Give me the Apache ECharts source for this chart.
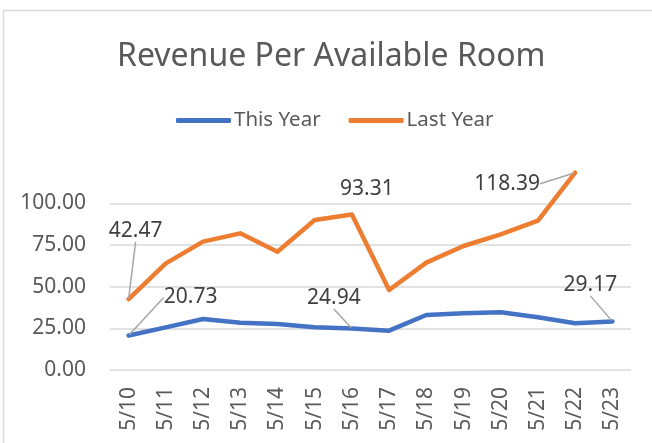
<!DOCTYPE html>
<html>
<head>
<meta charset="utf-8">
<script src="https://cdn.jsdelivr.net/npm/echarts@6/dist/echarts.min.js"></script>
<style>
  html, body { margin: 0; padding: 0; background: #fff; }
  #chart { width: 652px; height: 443px; }
</style>
</head>
<body>
<div id="chart"></div>
<script>
// ---- data ----
const categories = ['5/10','5/11','5/12','5/13','5/14','5/15','5/16','5/17','5/18','5/19','5/20','5/21','5/22','5/23'];
const thisYear = [20.73, 25.6, 30.6, 28.4, 27.6, 25.6, 24.94, 23.6, 33.0, 34.0, 34.6, 31.6, 28.0, 29.17];
const lastYear = [42.47, 64.0, 77.0, 82.0, 71.0, 90.0, 93.31, 48.0, 64.4, 74.4, 81.4, 89.6, 118.39, null];
const labeledThisYear = [0, 6, 13];
const labeledLastYear = [0, 6, 12];
const yTicks = [0, 25, 50, 75, 100];

// ---- label placement (styling only) ----
const thisYearLabelOffsets = { 0: [62, -38, true], 6: [-18, -30, true], 13: [-22, -36, true] };
const lastYearLabelOffsets = { 0: [7, -68, true], 6: [15, -25, false], 12: [-68, 11, true] };

const FONT = 'Noto Sans';
const TXT = '#595959';

function buildData(values, labeled, offsets) {
  return values.map((v, i) => {
    if (labeled.indexOf(i) >= 0) {
      return {
        value: v,
        label: { show: true },
        labelLine: { show: offsets[i][2] }
      };
    }
    return v;
  });
}

function layoutFor(offsets) {
  return function (params) {
    const o = offsets[params.dataIndex];
    if (!o) return {};
    return { dx: o[0], dy: o[1] };
  };
}

const chart = echarts.init(document.getElementById('chart'), null, { renderer: 'canvas' });

const commonLabel = {
  show: false,
  position: 'inside',
  fontFamily: FONT,
  fontSize: 21,
  color: '#404040',
  formatter: p => p.value.toFixed(2)
};
const commonLabelLine = {
  show: false,
  lineStyle: { color: '#a6a6a6', width: 1.5 }
};

chart.setOption({
  animation: false,
  backgroundColor: '#ffffff',
  graphic: [{
    type: 'rect',
    silent: true,
    shape: { x: 3.5, y: 10.5, width: 700, height: 500 },
    style: { fill: 'none', stroke: '#d9d9d9', lineWidth: 1.5 }
  }],
  title: {
    text: 'Revenue Per Available Room',
    left: 112,
    top: 36,
    textStyle: { fontFamily: FONT, fontSize: 32, fontWeight: 'normal', color: TXT }
  },
  legend: {
    top: 105,
    left: 171,
    itemWidth: 55,
    itemHeight: 5,
    itemGap: 28,
    icon: 'roundRect',
    textStyle: { fontFamily: FONT, fontSize: 20.5, color: TXT, padding: [0, 0, 0, -2] },
    data: ['This Year', 'Last Year']
  },
  grid: { left: 110, right: 21, top: 170, bottom: 73 },
  xAxis: {
    type: 'category',
    data: categories,
    boundaryGap: true,
    axisLine: { show: false },
    axisTick: { show: false },
    axisLabel: {
      rotate: 90,
      margin: 17,
      interval: 0,
      fontFamily: FONT,
      fontSize: 21,
      color: TXT
    }
  },
  yAxis: {
    type: 'value',
    min: 0,
    max: 120,
    interval: 25,
    axisLine: { show: false },
    axisTick: { show: false },
    axisLabel: {
      margin: 24,
      fontFamily: FONT,
      fontSize: 21,
      color: TXT,
      formatter: v => (yTicks.indexOf(v) >= 0 ? v.toFixed(2) : '')
    },
    splitLine: {
      show: true,
      lineStyle: {
        color: ['#d9d9d9', '#d9d9d9', '#d9d9d9', '#d9d9d9', '#d9d9d9', 'rgba(0,0,0,0)'],
        width: 1.5
      }
    }
  },
  series: [
    {
      name: 'This Year',
      type: 'line',
      data: buildData(thisYear, labeledThisYear, thisYearLabelOffsets),
      color: '#4472C4',
      lineStyle: { width: 4.5, color: '#4472C4', cap: 'round', join: 'round' },
      symbol: 'circle',
      symbolSize: 2,
      showSymbol: true,
      itemStyle: { color: '#4472C4' },
      label: commonLabel,
      labelLine: commonLabelLine,
      labelLayout: layoutFor(thisYearLabelOffsets),
      clip: true
    },
    {
      name: 'Last Year',
      type: 'line',
      data: buildData(lastYear, labeledLastYear, lastYearLabelOffsets),
      color: '#ED7D31',
      lineStyle: { width: 4.5, color: '#ED7D31', cap: 'round', join: 'round' },
      symbol: 'circle',
      symbolSize: 2,
      showSymbol: true,
      itemStyle: { color: '#ED7D31' },
      label: commonLabel,
      labelLine: commonLabelLine,
      labelLayout: layoutFor(lastYearLabelOffsets),
      clip: true
    }
  ]
});
</script>
</body>
</html>
